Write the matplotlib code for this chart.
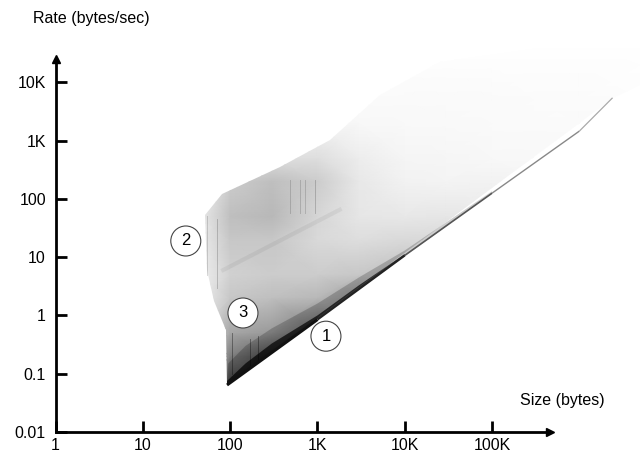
import numpy as np
import matplotlib
matplotlib.use('Agg')
import matplotlib.pyplot as plt
from matplotlib.colors import LinearSegmentedColormap
from matplotlib.patches import Polygon
from matplotlib.collections import LineCollection
from matplotlib.ticker import NullLocator

plt.rcParams['font.family'] = ['Liberation Sans', 'DejaVu Sans']

# ------------------------------------------------------------------
# values (size in bytes, rate in bytes/sec)
x_ticks = [1, 10, 100, 1e3, 1e4, 1e5]
x_labels = ['1', '10', '100', '1K', '10K', '100K']
y_ticks = [0.01, 0.1, 1, 10, 100, 1e3, 1e4]
y_labels = ['0.01', '0.1', '1', '10', '100', '1K', '10K']

# density of transfers (0 = none, 1 = black), rows = rate, cols = size
grid_size = [40, 100, 300, 1e3, 3e3, 1e4, 3e4, 1e5, 3e5, 1e6, 5e6]
grid_rate = [0.05, 0.2, 0.5, 2, 5, 20, 50, 200, 500, 2e3, 5e3, 2e4, 5e4]
density = [
    [0.05, 0.80, 0.80, 0.80, 0.50, 0.30, 0.20, 0.10, 0.05, 0.03, 0.03],
    [0.05, 0.50, 0.70, 0.80, 0.50, 0.30, 0.20, 0.10, 0.05, 0.03, 0.03],
    [0.05, 0.35, 0.40, 0.60, 0.50, 0.30, 0.20, 0.10, 0.05, 0.03, 0.03],
    [0.04, 0.22, 0.25, 0.28, 0.40, 0.30, 0.20, 0.10, 0.05, 0.03, 0.03],
    [0.04, 0.18, 0.20, 0.20, 0.22, 0.25, 0.20, 0.10, 0.05, 0.03, 0.03],
    [0.05, 0.22, 0.22, 0.15, 0.13, 0.15, 0.15, 0.10, 0.05, 0.03, 0.03],
    [0.05, 0.25, 0.28, 0.16, 0.10, 0.09, 0.10, 0.08, 0.05, 0.03, 0.03],
    [0.02, 0.20, 0.25, 0.20, 0.09, 0.05, 0.045, 0.05, 0.04, 0.025, 0.02],
    [0.00, 0.10, 0.13, 0.13, 0.07, 0.04, 0.035, 0.03, 0.03, 0.02, 0.02],
    [0.00, 0.02, 0.03, 0.04, 0.03, 0.025, 0.025, 0.02, 0.02, 0.02, 0.015],
    [0.00, 0.00, 0.00, 0.015, 0.02, 0.02, 0.02, 0.02, 0.015, 0.015, 0.01],
    [0.00, 0.00, 0.00, 0.00, 0.005, 0.01, 0.01, 0.01, 0.01, 0.01, 0.005],
    [0.00, 0.00, 0.00, 0.00, 0.00, 0.00, 0.00, 0.00, 0.00, 0.00, 0.00],
]

# outline of the cloud
cloud_size = [92, 89, 65, 54, 51, 80, 375, 1390, 5200, 25000, 350000,
              4.9e6, 4.9e6, 2.4e6]
cloud_rate = [0.064, 0.56, 1.8, 6, 52, 120, 350, 1030, 6000, 22000, 39000,
              39000, 9000, 5400]

# the lower limit line (1) and the dense bands just above it
edge_size = [92, 1e3, 1e4, 1e5, 1e6, 2.4e6]
edge_rate = [0.064, 0.85, 10.7, 125, 1450, 5400]
inner_size = [92, 1e4, 1e4, 3e3, 1e3, 300, 150, 92]
inner_rate = [0.064, 10.7, 11.3, 3.3, 1.0, 0.33, 0.15, 0.075]
outer_size = [92, 1e5, 1e5, 1e4, 3e3, 1e3, 300, 150, 95]
outer_rate = [0.064, 125, 135, 13, 4.5, 1.6, 0.6, 0.3, 0.15]

# vertical streaks
streak_size = [54, 71, 105, 170, 210, 490, 630, 720, 940]
streak_lo = [5, 3, 0.1, 0.13, 0.16, 57, 57, 57, 57]
streak_hi = [50, 45, 0.5, 0.4, 0.45, 210, 210, 210, 210]
streak_alpha = [0.15, 0.18, 0.35, 0.35, 0.35, 0.15, 0.15, 0.15, 0.18]

# faint ridge inside region 2
ridge_size = [83, 1800]
ridge_rate = [6, 65]

# circled region labels
mark_text = ['1', '2', '3']
mark_size = [1250, 31, 140]
mark_rate = [0.44, 18.9, 1.1]

# ------------------------------------------------------------------
fig = plt.figure(figsize=(6.41, 4.66), dpi=100)
ax = fig.add_axes([0, 0, 1, 1])
ax.set_xscale('log')
ax.set_yscale('log')
ax.set_xlim(10 ** -0.637, 10 ** 6.706)
ax.set_ylim(10 ** -2.583, 10 ** 5.41)

cmap = LinearSegmentedColormap.from_list('w2k', ['white', 'black'], N=1024)
X, Y = np.meshgrid(grid_size, grid_rate)
mesh = ax.pcolormesh(X, Y, np.array(density), shading='gouraud',
                     cmap=cmap, vmin=0, vmax=1, zorder=1)
clip = Polygon(np.column_stack([cloud_size, cloud_rate]), closed=True,
               transform=ax.transData)
mesh.set_clip_path(clip)

ax.add_patch(Polygon(np.column_stack([outer_size, outer_rate]), closed=True,
                     facecolor='black', edgecolor='none', alpha=0.2, zorder=2))
ax.add_patch(Polygon(np.column_stack([inner_size, inner_rate]), closed=True,
                     facecolor='black', edgecolor='none', alpha=0.7, zorder=3))

ax.plot(ridge_size, ridge_rate, color='black', lw=3, alpha=0.05, zorder=2)
for s, lo, hi, a in zip(streak_size, streak_lo, streak_hi, streak_alpha):
    ax.plot([s, s], [lo, hi], color='black', lw=0.7, alpha=a, zorder=3)

segs = [[(edge_size[i], edge_rate[i]), (edge_size[i + 1], edge_rate[i + 1])]
        for i in range(len(edge_size) - 1)]
lc = LineCollection(segs, colors=['#111111', '#222222', '#555555',
                                  '#888888', '#aaaaaa'],
                    linewidths=[2.2, 1.6, 1.2, 1.0, 0.9], zorder=4)
ax.add_collection(lc)

for t, s, r in zip(mark_text, mark_size, mark_rate):
    ax.text(s, r, t, fontsize=12, ha='center', va='center', zorder=6,
            bbox=dict(boxstyle='circle,pad=0.45', facecolor='white',
                      edgecolor='#444444', linewidth=0.8))

# axes with arrows
for side in ['top', 'right']:
    ax.spines[side].set_visible(False)
ax.spines['left'].set_position(('data', 1))
ax.spines['bottom'].set_position(('data', 0.01))
ax.spines['left'].set_bounds(0.01, 10 ** 4.38)
ax.spines['bottom'].set_bounds(1, 10 ** 5.63)
for side in ['left', 'bottom']:
    ax.spines[side].set_linewidth(2)
    ax.spines[side].set_zorder(7)
ax.plot([1], [10 ** 4.4], marker='^', ms=6, color='black', zorder=8,
        clip_on=False)
ax.plot([10 ** 5.66], [0.01], marker='>', ms=6, color='black', zorder=8,
        clip_on=False)

ax.set_xticks(x_ticks)
ax.set_xticklabels(x_labels)
ax.set_yticks(y_ticks)
ax.set_yticklabels(y_labels)
ax.xaxis.set_minor_locator(NullLocator())
ax.yaxis.set_minor_locator(NullLocator())
ax.tick_params(direction='in', length=8, width=2, labelsize=11.5)
ax.tick_params(axis='y', pad=7)
ax.tick_params(axis='x', pad=4)
ax.patch.set_alpha(0)

fig.text(33 / 641, 1 - 18 / 466, 'Rate (bytes/sec)', fontsize=11.5,
         ha='left', va='center')
fig.text(520 / 641, 1 - 400 / 466, 'Size (bytes)', fontsize=11.5,
         ha='left', va='center')

fig.savefig('out.png', dpi=100)
